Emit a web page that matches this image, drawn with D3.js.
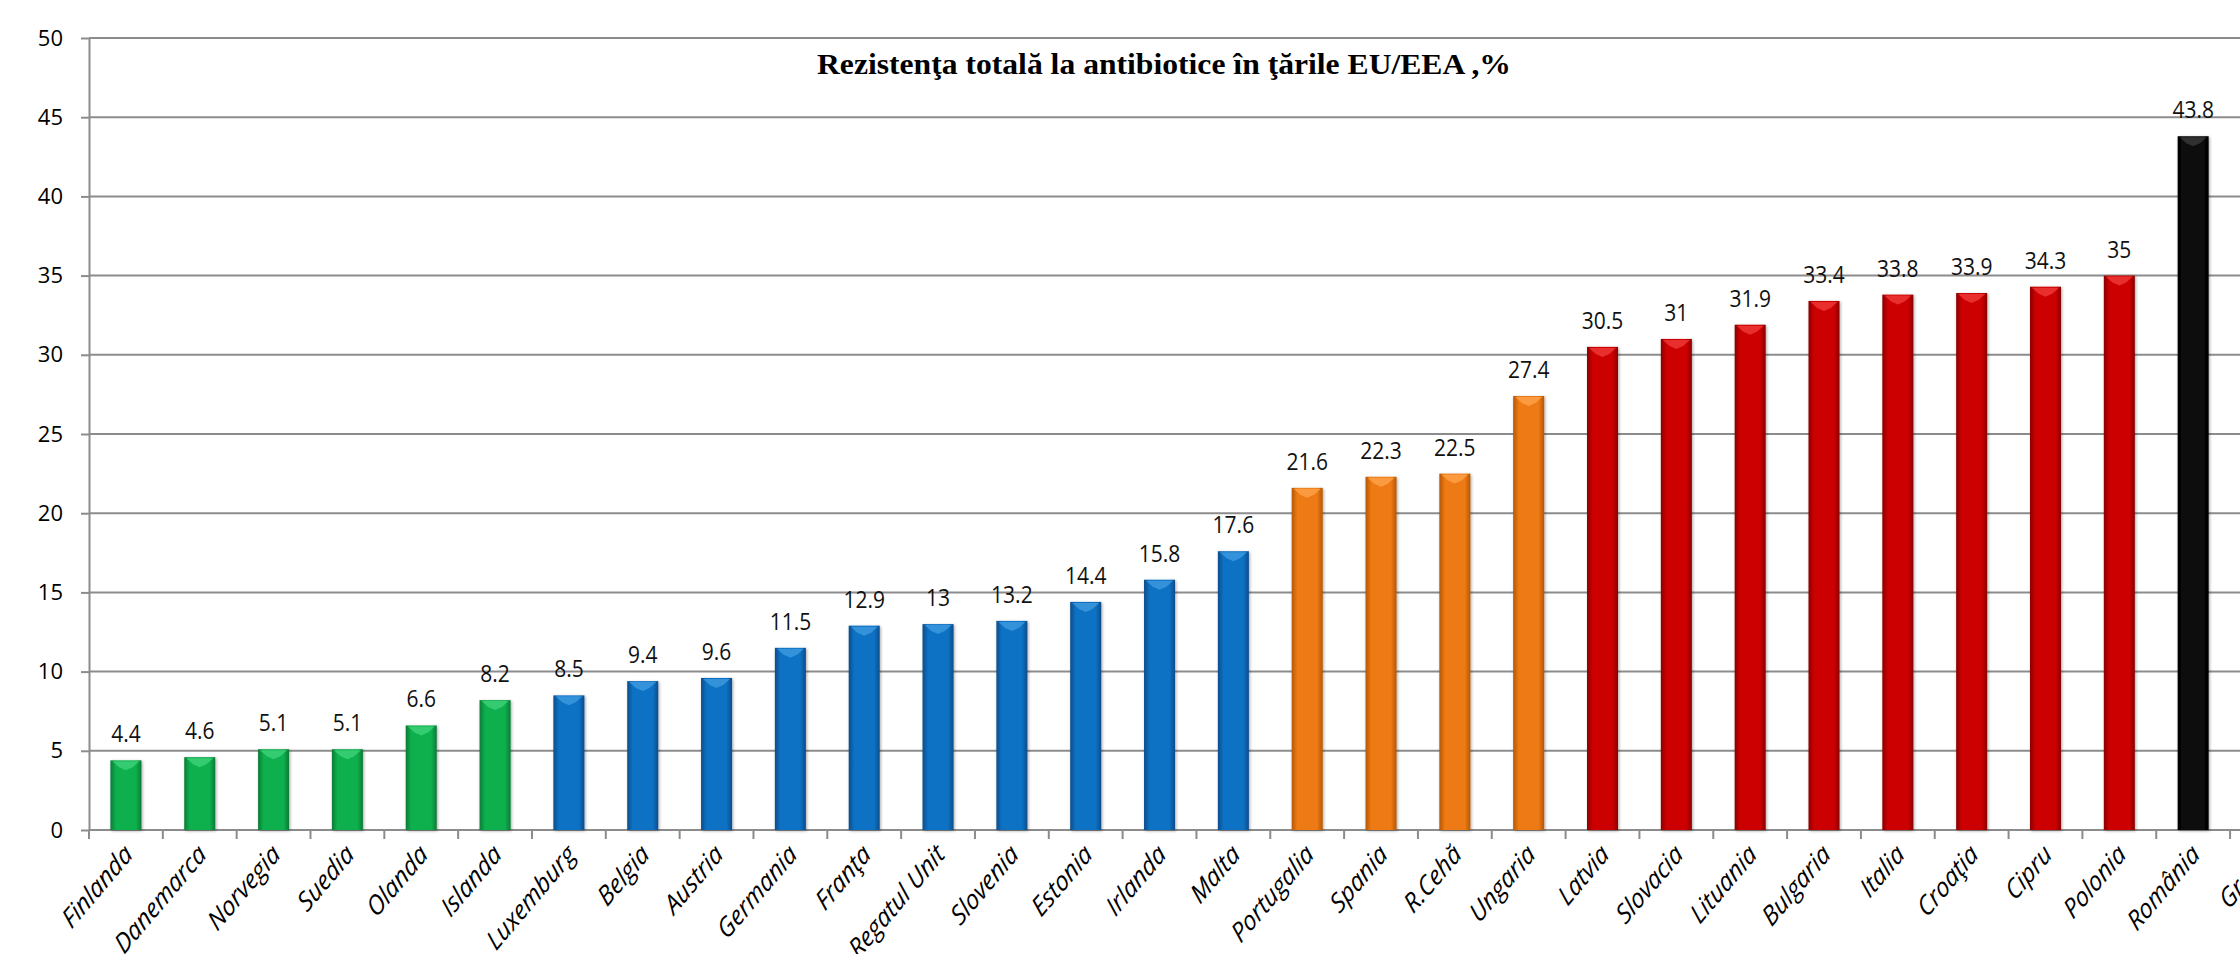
<!DOCTYPE html>
<html>
<head>
<meta charset="utf-8"/>
<script src="https://cdn.jsdelivr.net/npm/d3@7"></script>
<style>
body { margin: 0; background: #fff; }
.grid line { stroke: #8c8c8c; stroke-width: 2; }
.axis path, .axis line { stroke: #8c8c8c; stroke-width: 2; }
.axis text { font-family: "Open Sans", sans-serif; fill: #000; }
.val { font-family: "Open Sans", sans-serif; font-size: 21px; fill: #111; }
.title { font-family: "Liberation Serif", serif; font-weight: bold; font-size: 29px; }
</style>
</head>
<body>
<svg id="chart" width="2240" height="954"></svg>
<script>
// data
var countries = ["Finlanda", "Danemarca", "Norvegia", "Suedia", "Olanda", "Islanda",
  "Luxemburg", "Belgia", "Austria", "Germania", "Franţa", "Regatul Unit", "Slovenia",
  "Estonia", "Irlanda", "Malta", "Portugalia", "Spania", "R.Cehă", "Ungaria",
  "Latvia", "Slovacia", "Lituania", "Bulgaria", "Italia", "Croaţia", "Cipru",
  "Polonia", "România", "Grecia"];
var values = [4.4, 4.6, 5.1, 5.1, 6.6, 8.2, 8.5, 9.4, 9.6, 11.5, 12.9, 13, 13.2,
  14.4, 15.8, 17.6, 21.6, 22.3, 22.5, 27.4, 30.5, 31, 31.9, 33.4, 33.8, 33.9, 34.3,
  35, 43.8, null];
var groups = ["g", "g", "g", "g", "g", "g",
  "b", "b", "b", "b", "b", "b", "b", "b", "b", "b",
  "o", "o", "o", "o",
  "r", "r", "r", "r", "r", "r", "r", "r",
  "k", "k"];
var yTicks = [0, 5, 10, 15, 20, 25, 30, 35, 40, 45, 50];
var titleText = "Rezistenţa totală la antibiotice în ţările EU/EEA ,%";

var groupColors = {
  g: ["#0a7a36", "#10b04e", "#3fd27a"],
  b: ["#0a4c8a", "#0b72c4", "#3f9ae0"],
  o: ["#b35706", "#ee7a12", "#ffa24a"],
  r: ["#8a0000", "#cc0202", "#f03a3a"],
  k: ["#000000", "#0a0a0a", "#3a3a3a"]
};

var data = countries.map(function(c, i) {
  return {name: c, value: values[i], group: groups[i]};
});

var mLeft = 89, mBottom = 830, mTop = 38;
var step = 73.83;
var mRight = mLeft + step * countries.length;

var svg = d3.select("#chart");

var x = d3.scaleBand()
    .domain(countries)
    .range([mLeft, mRight])
    .paddingInner(0.58)
    .paddingOuter(0.29);

var y = d3.scaleLinear()
    .domain([0, 50])
    .range([mBottom, mTop]);

// gradients
var defs = svg.append("defs");
Object.keys(groupColors).forEach(function(k) {
  var c = groupColors[k];
  var g = defs.append("linearGradient").attr("id", "grad-" + k)
      .attr("x1", "0").attr("x2", "1").attr("y1", "0").attr("y2", "0");
  g.append("stop").attr("offset", "0").attr("stop-color", c[0]);
  g.append("stop").attr("offset", "0.18").attr("stop-color", c[1]);
  g.append("stop").attr("offset", "0.5").attr("stop-color", c[1]);
  g.append("stop").attr("offset", "0.82").attr("stop-color", c[1]);
  g.append("stop").attr("offset", "1").attr("stop-color", c[0]);
});
var f = defs.append("filter").attr("id", "shadow")
    .attr("x", "-20%").attr("y", "-5%").attr("width", "140%").attr("height", "110%");
f.append("feDropShadow").attr("dx", 1).attr("dy", 1).attr("stdDeviation", 1.5)
    .attr("flood-color", "#000").attr("flood-opacity", 0.35);

// grid
svg.append("g")
    .attr("class", "grid")
    .selectAll("line")
    .data(yTicks.slice(1))
    .enter().append("line")
    .attr("x1", mLeft).attr("x2", 2240)
    .attr("y1", function(d) { return y(d); })
    .attr("y2", function(d) { return y(d); });

// y axis
var yAxis = svg.append("g")
    .attr("class", "axis")
    .attr("transform", "translate(" + mLeft + ",0)")
    .call(d3.axisLeft(y).tickValues(yTicks).tickSize(8).tickSizeOuter(0).tickPadding(18));
yAxis.selectAll("text").style("font-size", "22px");

// x axis line and ticks at category borders
var xg = svg.append("g").attr("class", "axis");
xg.append("line")
    .attr("x1", mLeft).attr("x2", 2240)
    .attr("y1", mBottom).attr("y2", mBottom);
xg.selectAll(".tk")
    .data(d3.range(countries.length + 1))
    .enter().append("line")
    .attr("class", "tk")
    .attr("x1", function(i) { return mLeft + i * x.step(); })
    .attr("x2", function(i) { return mLeft + i * x.step(); })
    .attr("y1", mBottom).attr("y2", mBottom + 9);

// labels are drawn a bit stretched vertically, like the original picture
xg.selectAll(".lab")
    .data(data)
    .enter().append("text")
    .attr("class", "lab")
    .attr("text-anchor", "end")
    .style("font-size", "23px")
    .style("font-style", "italic")
    .attr("transform", function(d) {
      return "translate(" + (x(d.name) + x.bandwidth() / 2 + 8) + "," + (mBottom + 26) +
        ") scale(1,1.18) rotate(-45)";
    })
    .text(function(d) { return d.name; });

// bars
var bars = svg.append("g")
    .selectAll("g")
    .data(data.filter(function(d) { return d.value != null; }))
    .enter().append("g");

bars.append("rect")
    .attr("x", function(d) { return x(d.name); })
    .attr("y", function(d) { return y(d.value); })
    .attr("width", x.bandwidth())
    .attr("height", function(d) { return y(0) - y(d.value); })
    .attr("fill", function(d) { return "url(#grad-" + d.group + ")"; })
    .attr("filter", "url(#shadow)");

// bevel highlight on top
bars.append("path")
    .attr("d", function(d) {
      var x0 = x(d.name), w = x.bandwidth(), t = y(d.value);
      return "M" + (x0 + 2) + "," + (t + 1) + "L" + (x0 + w - 2) + "," + (t + 1) +
        "L" + (x0 + w * 0.72) + "," + (t + 7) + "L" + (x0 + w * 0.5) + "," + (t + 10) +
        "L" + (x0 + w * 0.28) + "," + (t + 7) + "Z";
    })
    .attr("fill", function(d) { return groupColors[d.group][2]; })
    .attr("opacity", 0.8);

// value labels
bars.append("text")
    .attr("class", "val")
    .attr("text-anchor", "middle")
    .attr("transform", function(d) {
      return "translate(" + (x(d.name) + x.bandwidth() / 2) + "," + (y(d.value) - 18) + ") scale(1,1.12)";
    })
    .text(function(d) { return d.value; });

// title
svg.append("text")
    .attr("class", "title")
    .attr("x", 817)
    .attr("y", 74)
    .attr("textLength", 694)
    .attr("lengthAdjust", "spacingAndGlyphs")
    .text(titleText);
</script>
</body>
</html>
